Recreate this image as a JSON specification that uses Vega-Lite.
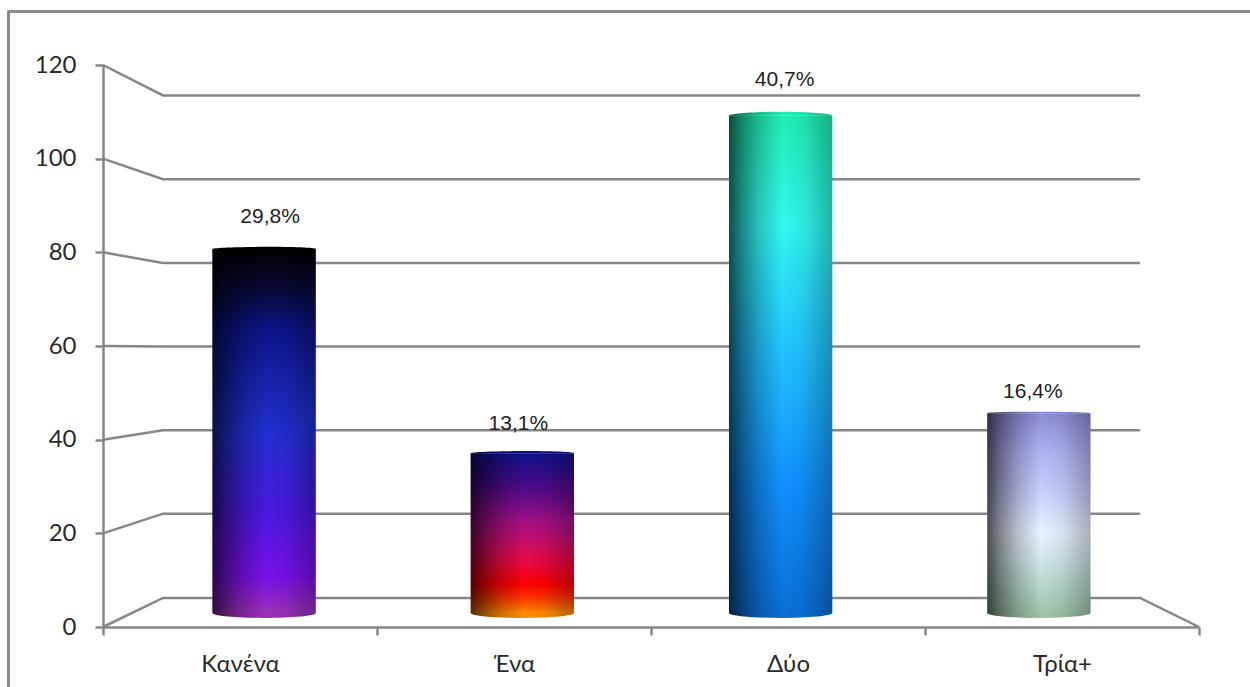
{
  "$schema": "https://vega.github.io/schema/vega-lite/v6.json",
  "width": 1250,
  "height": 687,
  "autosize": {"type": "fit", "contains": "padding"},
  "padding": 0,
  "background": "#ffffff",
  "config": {"view": {"stroke": null}},
  "datasets": {
    "children": [
      {"cat": "Κανένα", "count": 82, "label": "29,8%"},
      {"cat": "Ένα", "count": 36, "label": "13,1%"},
      {"cat": "Δύο", "count": 112, "label": "40,7%"},
      {"cat": "Τρία+", "count": 45, "label": "16,4%"}
    ],
    "walls": [
      {"tick": 0, "pos": 0, "level": 0}, {"tick": 0, "pos": 0.219, "level": 6.2}, {"tick": 0, "pos": 3.785, "level": 6.2}, {"tick": 0, "pos": 4, "level": 0},
      {"tick": 20, "pos": 0, "level": 20}, {"tick": 20, "pos": 0.219, "level": 24.2}, {"tick": 20, "pos": 3.785, "level": 24.2},
      {"tick": 40, "pos": 0, "level": 40}, {"tick": 40, "pos": 0.219, "level": 42}, {"tick": 40, "pos": 3.785, "level": 42},
      {"tick": 60, "pos": 0, "level": 60}, {"tick": 60, "pos": 0.219, "level": 59.9}, {"tick": 60, "pos": 3.785, "level": 59.9},
      {"tick": 80, "pos": 0, "level": 80}, {"tick": 80, "pos": 0.219, "level": 77.7}, {"tick": 80, "pos": 3.785, "level": 77.7},
      {"tick": 100, "pos": 0, "level": 100}, {"tick": 100, "pos": 0.219, "level": 95.6}, {"tick": 100, "pos": 3.785, "level": 95.6},
      {"tick": 120, "pos": 0, "level": 120}, {"tick": 120, "pos": 0.219, "level": 113.5}, {"tick": 120, "pos": 3.785, "level": 113.5}
    ]
  },
  "resolve": {
    "scale": {"x": "independent", "y": "independent"},
    "axis": {"x": "independent", "y": "independent"}
  },
  "layer": [
    {
      "data": {"values": [{"edge": 0}]},
      "mark": {"type": "point", "opacity": 0},
      "encoding": {
        "x": {"field": "edge", "type": "quantitative", "scale": {"domain": [0, 1], "range": [7, 1250]},
          "axis": {"orient": "top", "offset": -11, "ticks": false, "labels": false, "grid": false, "title": null, "domainColor": "#8a8a8a", "domainWidth": 3}},
        "y": {"field": "edge", "type": "quantitative", "scale": {"domain": [0, 1], "range": [10, 687]},
          "axis": {"orient": "left", "offset": -8, "ticks": false, "labels": false, "grid": false, "title": null, "domainColor": "#8a8a8a", "domainWidth": 3}}
      }
    },
    {
      "data": {"name": "walls"},
      "mark": {"type": "line", "stroke": "#868686", "strokeWidth": 2.5, "interpolate": "linear"},
      "encoding": {
        "x": {"field": "pos", "type": "quantitative", "scale": {"domain": [0, 4], "range": [103, 1199]}, "axis": null},
        "y": {"field": "level", "type": "quantitative", "scale": {"domain": [0, 120], "range": [627, 65]},
          "axis": {"orient": "left", "offset": -103, "values": [0, 20, 40, 60, 80, 100, 120], "grid": false, "title": null,
            "domainColor": "#868686", "domainWidth": 2.5, "tickColor": "#868686", "tickWidth": 2.5, "tickSize": 8,
            "labelFont": "Lato", "labelFontSize": 24, "labelColor": "#2a2a2a", "labelPadding": 19}},
        "detail": {"field": "tick", "type": "nominal"},
        "order": {"field": "pos", "type": "quantitative"}
      }
    },
    {
      "data": {"name": "children"},
      "mark": {"type": "rule", "opacity": 0},
      "encoding": {
        "x": {"field": "cat", "type": "nominal",
          "scale": {"domain": ["Κανένα", "Ένα", "Δύο", "Τρία+"], "range": [103, 1199], "paddingInner": 0, "paddingOuter": 0},
          "axis": {"orient": "bottom", "offset": -60, "tickBand": "extent", "title": null, "grid": false, "labelAngle": 0,
            "domainColor": "#868686", "domainWidth": 2.5, "tickColor": "#868686", "tickWidth": 2.5, "tickSize": 8,
            "labelFont": "Lato", "labelFontSize": 24, "labelColor": "#2a2a2a", "labelPadding": 17}}
      }
    },
    {
      "data": {"name": "children"},
      "encoding": {
        "x": {"field": "cat", "type": "nominal",
          "scale": {"domain": ["Κανένα", "Ένα", "Δύο", "Τρία+"], "range": [135, 1168], "paddingInner": 0, "paddingOuter": 0},
          "axis": null},
        "y": {"field": "count", "type": "quantitative", "scale": {"domain": [0, 120], "range": [613, 80.2]}, "axis": null}
      },
      "layer": [
        {
          "transform": [{"filter": "datum.cat === 'Κανένα'"}],
          "layer": [
            {"mark": {"type": "bar", "width": {"band": 0.4},
              "fill": {"gradient": "linear", "x1": 0, "y1": 0, "x2": 0, "y2": 1, "stops": [
                {"offset": 0, "color": "#000000"}, {"offset": 0.1, "color": "#060830"}, {"offset": 0.22, "color": "#0c1488"},
                {"offset": 0.5, "color": "#2030d0"}, {"offset": 0.72, "color": "#4a18e0"}, {"offset": 0.9, "color": "#7a10e8"}, {"offset": 1, "color": "#9a30b8"}]}}},
            {"mark": {"type": "point", "filled": true, "opacity": 1, "size": 10670,
              "shape": "M-1,0C-1,.053 -.55,.096 0,.096C.55,.096 1,.053 1,0Z",
              "fill": {"gradient": "linear", "x1": 0, "y1": 0, "x2": 1, "y2": 0, "stops": [
                {"offset": 0, "color": "#31103b"}, {"offset": 0.12, "color": "#551a65"}, {"offset": 0.3, "color": "#7b2693"}, {"offset": 0.52, "color": "#9a30b8"}, {"offset": 0.72, "color": "#912dad"}, {"offset": 1, "color": "#6f2285"}]}},
              "encoding": {"y": {"datum": 0}}},
            {"mark": {"type": "point", "filled": true, "opacity": 1, "size": 10670,
              "shape": "M-1,0C-1,-.022 -.55,-.04 0,-.04C.55,-.04 1,-.022 1,0Z",
              "fill": "#000000"}},
            {"mark": {"type": "text", "font": "Liberation Sans", "fontSize": 21, "color": "#222222", "dx": 6, "dy": -32},
              "encoding": {"text": {"field": "label"}}}
          ]
        },
        {
          "transform": [{"filter": "datum.cat === 'Ένα'"}],
          "layer": [
            {"mark": {"type": "bar", "width": {"band": 0.4},
              "fill": {"gradient": "linear", "x1": 0, "y1": 0, "x2": 0, "y2": 1, "stops": [
                {"offset": 0, "color": "#10108c"}, {"offset": 0.2, "color": "#4a0a88"}, {"offset": 0.42, "color": "#a01088"},
                {"offset": 0.6, "color": "#d80c60"}, {"offset": 0.72, "color": "#f00630"}, {"offset": 0.82, "color": "#ff0000"}, {"offset": 0.9, "color": "#ff3000"}, {"offset": 1, "color": "#ff8c00"}]}}},
            {"mark": {"type": "point", "filled": true, "opacity": 1, "size": 10670,
              "shape": "M-1,0C-1,.053 -.55,.096 0,.096C.55,.096 1,.053 1,0Z",
              "fill": {"gradient": "linear", "x1": 0, "y1": 0, "x2": 1, "y2": 0, "stops": [
                {"offset": 0, "color": "#522d00"}, {"offset": 0.12, "color": "#8c4d00"}, {"offset": 0.3, "color": "#cc7000"}, {"offset": 0.52, "color": "#ff8c00"}, {"offset": 0.72, "color": "#f08400"}, {"offset": 1, "color": "#b86500"}]}},
              "encoding": {"y": {"datum": 0}}},
            {"mark": {"type": "point", "filled": true, "opacity": 1, "size": 10670,
              "shape": "M-1,0C-1,-.022 -.55,-.04 0,-.04C.55,-.04 1,-.022 1,0Z",
              "fill": {"gradient": "linear", "x1": 0, "y1": 0, "x2": 1, "y2": 0, "stops": [
                {"offset": 0, "color": "#05052d"}, {"offset": 0.12, "color": "#09094d"}, {"offset": 0.3, "color": "#0d0d70"}, {"offset": 0.52, "color": "#10108c"}, {"offset": 0.72, "color": "#0f0f84"}, {"offset": 1, "color": "#0c0c65"}]}}},
            {"mark": {"type": "text", "font": "Liberation Sans", "fontSize": 21, "color": "#222222", "dx": -4, "dy": -29},
              "encoding": {"text": {"field": "label"}}}
          ]
        },
        {
          "transform": [{"filter": "datum.cat === 'Δύο'"}],
          "layer": [
            {"mark": {"type": "bar", "width": {"band": 0.4},
              "fill": {"gradient": "linear", "x1": 0, "y1": 0, "x2": 0, "y2": 1, "stops": [
                {"offset": 0, "color": "#1ef0b4"}, {"offset": 0.22, "color": "#30f8f0"}, {"offset": 0.45, "color": "#22c8ff"},
                {"offset": 0.75, "color": "#1090ff"}, {"offset": 1, "color": "#0a70d8"}]}}},
            {"mark": {"type": "point", "filled": true, "opacity": 1, "size": 10670,
              "shape": "M-1,0C-1,.053 -.55,.096 0,.096C.55,.096 1,.053 1,0Z",
              "fill": {"gradient": "linear", "x1": 0, "y1": 0, "x2": 1, "y2": 0, "stops": [
                {"offset": 0, "color": "#032445"}, {"offset": 0.12, "color": "#063e77"}, {"offset": 0.3, "color": "#085aad"}, {"offset": 0.52, "color": "#0a70d8"}, {"offset": 0.72, "color": "#0969cb"}, {"offset": 1, "color": "#07519b"}]}},
              "encoding": {"y": {"datum": 0}}},
            {"mark": {"type": "point", "filled": true, "opacity": 1, "size": 10670,
              "shape": "M-1,0C-1,-.041 -.55,-.075 0,-.075C.55,-.075 1,-.041 1,0Z",
              "fill": {"gradient": "linear", "x1": 0, "y1": 0, "x2": 1, "y2": 0, "stops": [
                {"offset": 0, "color": "#0a4d3a"}, {"offset": 0.12, "color": "#108463"}, {"offset": 0.3, "color": "#18c090"}, {"offset": 0.52, "color": "#1ef0b4"}, {"offset": 0.72, "color": "#1ce2a9"}, {"offset": 1, "color": "#16ad82"}]}}},
            {"mark": {"type": "text", "font": "Liberation Sans", "fontSize": 21, "color": "#222222", "dx": 4, "dy": -36},
              "encoding": {"text": {"field": "label"}}}
          ]
        },
        {
          "transform": [{"filter": "datum.cat === 'Τρία+'"}],
          "layer": [
            {"mark": {"type": "bar", "width": {"band": 0.4},
              "fill": {"gradient": "linear", "x1": 0, "y1": 0, "x2": 0, "y2": 1, "stops": [
                {"offset": 0, "color": "#8c8cd8"}, {"offset": 0.2, "color": "#b0b4f4"}, {"offset": 0.42, "color": "#ccd4ff"},
                {"offset": 0.52, "color": "#dce6ff"}, {"offset": 0.6, "color": "#e8f2ff"}, {"offset": 0.72, "color": "#d4e8ec"}, {"offset": 0.86, "color": "#b8d8cc"}, {"offset": 1, "color": "#a0c4a8"}]}}},
            {"mark": {"type": "point", "filled": true, "opacity": 1, "size": 10670,
              "shape": "M-1,0C-1,.053 -.55,.096 0,.096C.55,.096 1,.053 1,0Z",
              "fill": {"gradient": "linear", "x1": 0, "y1": 0, "x2": 1, "y2": 0, "stops": [
                {"offset": 0, "color": "#333f36"}, {"offset": 0.12, "color": "#586c5c"}, {"offset": 0.3, "color": "#809d86"}, {"offset": 0.52, "color": "#a0c4a8"}, {"offset": 0.72, "color": "#96b89e"}, {"offset": 1, "color": "#738d79"}]}},
              "encoding": {"y": {"datum": 0}}},
            {"mark": {"type": "point", "filled": true, "opacity": 1, "size": 10670,
              "shape": "M-1,0C-1,-.0165 -.55,-.03 0,-.03C.55,-.03 1,-.0165 1,0Z",
              "fill": {"gradient": "linear", "x1": 0, "y1": 0, "x2": 1, "y2": 0, "stops": [
                {"offset": 0, "color": "#2d2d45"}, {"offset": 0.12, "color": "#4d4d77"}, {"offset": 0.3, "color": "#7070ad"}, {"offset": 0.52, "color": "#8c8cd8"}, {"offset": 0.72, "color": "#8484cb"}, {"offset": 1, "color": "#65659b"}]}}},
            {"mark": {"type": "text", "font": "Liberation Sans", "fontSize": 21, "color": "#222222", "dx": -6, "dy": -21},
              "encoding": {"text": {"field": "label"}}}
          ]
        },
        {
          "description": "Left-to-right shading that gives each bar its round body",
          "mark": {"type": "bar", "width": {"band": 0.4},
            "fill": {"gradient": "linear", "x1": 0, "y1": 0, "x2": 1, "y2": 0, "stops": [
              {"offset": 0, "color": "rgba(0,0,0,0.68)"}, {"offset": 0.12, "color": "rgba(0,0,0,0.45)"}, {"offset": 0.3, "color": "rgba(0,0,0,0.2)"},
              {"offset": 0.52, "color": "rgba(0,0,0,0)"}, {"offset": 0.72, "color": "rgba(0,0,0,0.06)"}, {"offset": 1, "color": "rgba(0,0,0,0.28)"}]}}
        }
      ]
    }
  ]
}
